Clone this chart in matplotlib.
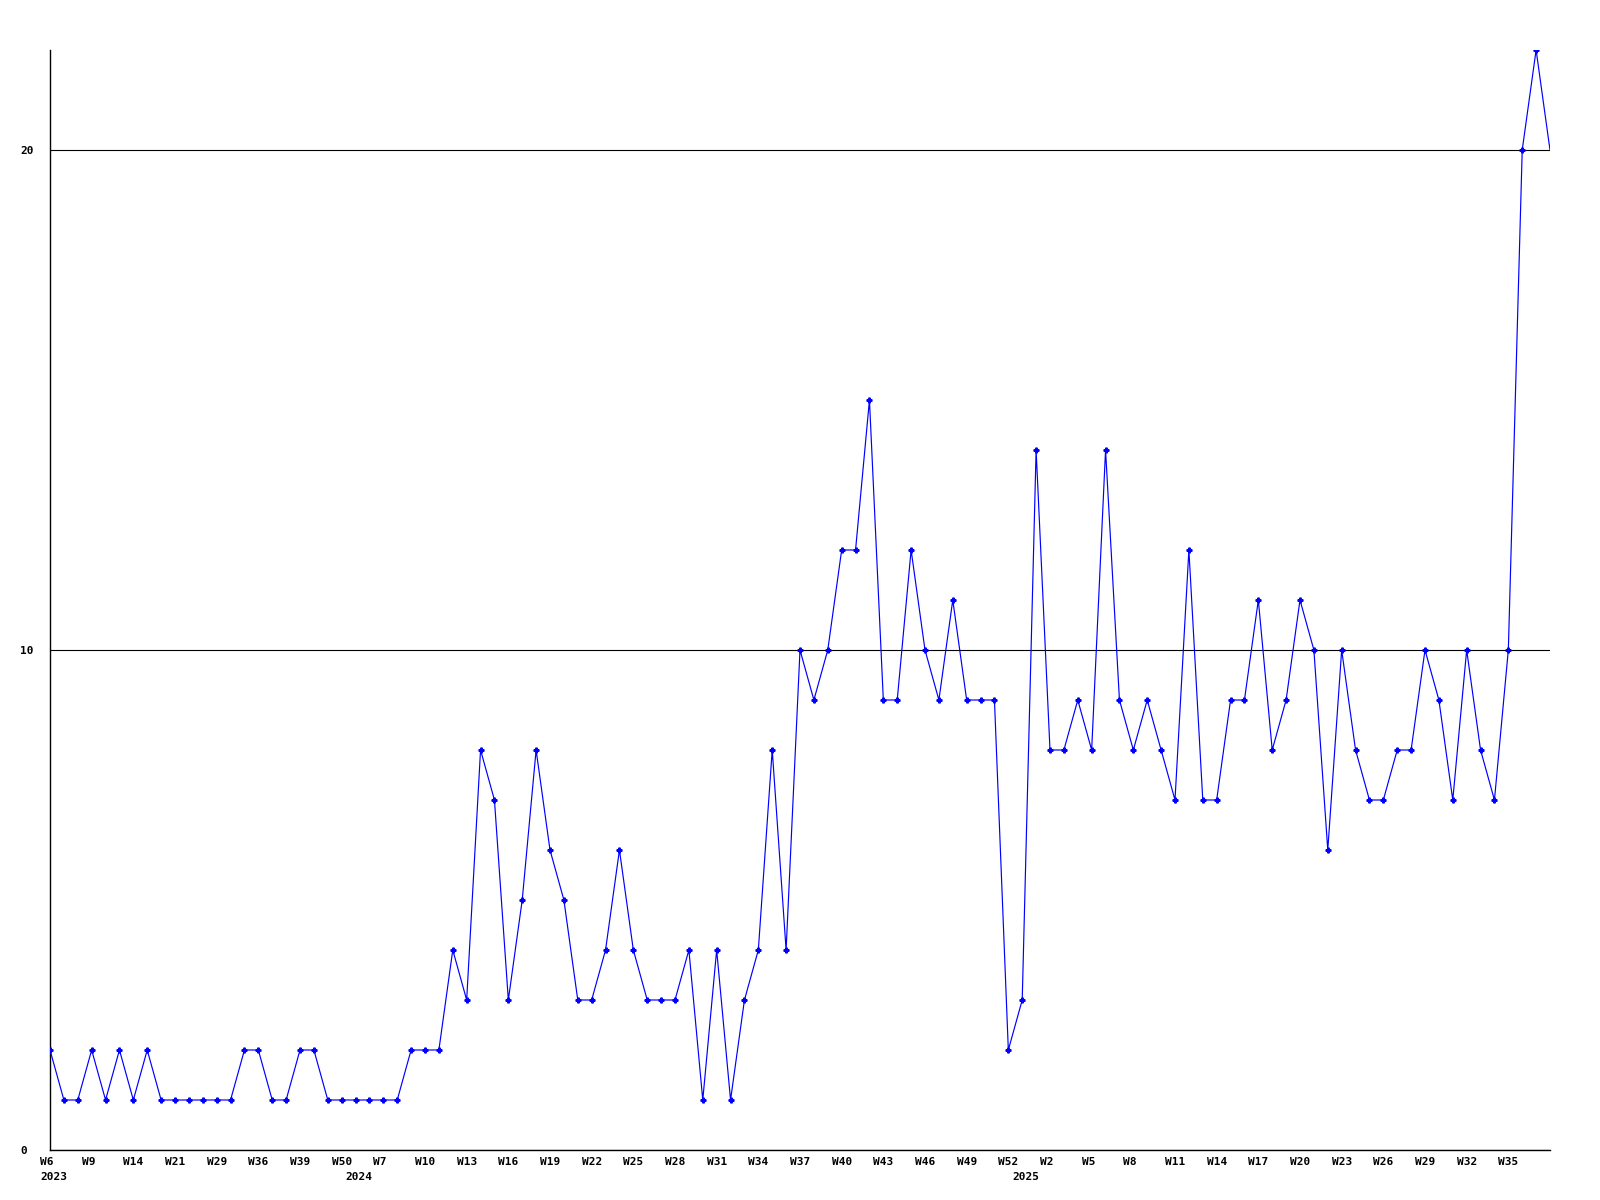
import matplotlib
matplotlib.use('Agg')
import matplotlib.pyplot as plt
from matplotlib.transforms import ScaledTranslation

# weekly counts, one per point
values = [2, 1, 1, 2, 1, 2, 1, 2, 1, 1,
          1, 1, 1, 1, 2, 2, 1, 1, 2, 2,
          1, 1, 1, 1, 1, 1, 2, 2, 2, 4,
          3, 8, 7, 3, 5, 8, 6, 5, 3, 3,
          4, 6, 4, 3, 3, 3, 4, 1, 4, 1,
          3, 4, 8, 4, 10, 9, 10, 12, 12, 15,
          9, 9, 12, 10, 9, 11, 9, 9, 9, 2,
          3, 14, 8, 8, 9, 8, 14, 9, 8, 9,
          8, 7, 12, 7, 7, 9, 9, 11, 8, 9,
          11, 10, 6, 10, 8, 7, 7, 8, 8, 10,
          9, 7, 10, 8, 7, 10, 20, 22, 20]

# every third point gets a label
week_labels = ['W6', 'W9', 'W14', 'W21', 'W29', 'W36', 'W39', 'W50', 'W7', 'W10',
               'W13', 'W16', 'W19', 'W22', 'W25', 'W28', 'W31', 'W34', 'W37', 'W40',
               'W43', 'W46', 'W49', 'W52', 'W2', 'W5', 'W8', 'W11', 'W14', 'W17',
               'W20', 'W23', 'W26', 'W29', 'W32', 'W35']
years = ['2023', '2024', '2025']
year_pos = [0, 22, 70]

font = dict(family='DejaVu Sans Mono', weight='bold', size=8)

fig = plt.figure(figsize=(16, 12), dpi=100)
ax = fig.add_axes([50/1600, 50/1200, 1500/1600, 1100/1200])

x = list(range(len(values)))
ax.plot(x, values, color='#0000ff', lw=0.85, marker='P', ms=3.5,
        markevery=slice(0, len(values) - 1), zorder=3)

ax.set_xlim(0, len(values) - 1)
ax.set_ylim(0, 22)

for s in ['top', 'right']:
    ax.spines[s].set_visible(False)
for s in ['left', 'bottom']:
    ax.spines[s].set_linewidth(1.0)
    ax.spines[s].set_color('black')

ax.set_yticks([0, 10, 20])
ax.set_yticklabels(['0', '10', '20'], fontdict=font)
ax.yaxis.grid(True, color='black', lw=0.8)
ax.tick_params(axis='y', length=0, pad=0)
off_y = ScaledTranslation(-30/100, 0, fig.dpi_scale_trans)
for lab in ax.get_yticklabels():
    lab.set_horizontalalignment('left')
    lab.set_transform(lab.get_transform() + off_y)

ax.set_xticks(x[:-1:3])
ax.set_xticklabels(week_labels, fontdict=font)
ax.tick_params(axis='x', length=0, pad=5)
off_x = ScaledTranslation(-10/100, 0, fig.dpi_scale_trans)
for lab in ax.get_xticklabels():
    lab.set_horizontalalignment('left')
    lab.set_transform(lab.get_transform() + off_x)

year_trans = ax.get_xaxis_transform() + ScaledTranslation(-10/100, -22/100, fig.dpi_scale_trans)
for p, yr in zip(year_pos, years):
    ax.text(p, 0, yr, transform=year_trans, ha='left', va='top', **font)

fig.savefig('out.png', dpi=100)
